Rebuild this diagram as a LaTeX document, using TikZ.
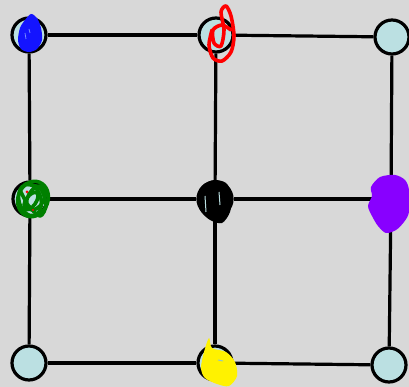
\documentclass[tikz,border=0pt]{standalone}
\definecolor{bgc}{RGB}{216,216,216}
\definecolor{nodefill}{RGB}{187,224,226}
\definecolor{blueS}{RGB}{20,20,255}
\definecolor{blueL}{RGB}{120,140,255}
\definecolor{greenS}{RGB}{0,128,0}
\definecolor{purpleS}{RGB}{136,0,255}
\definecolor{yellowL}{RGB}{150,200,190}
\begin{document}
\begin{tikzpicture}[x=1pt,y=-1pt,
  dot/.style={circle,draw=black,line width=3.2pt,fill=nodefill,minimum size=34pt,inner sep=0pt},
  edge/.style={draw=black,line width=3.2pt},
  scrib/.style={line width=3.6pt,line cap=round,line join=round}]
\fill[bgc] (0,0) rectangle (409,387);
\useasboundingbox (0,0) rectangle (409,387);
\node[dot] (tl) at (29,35) {};
\node[dot] (tm) at (216,35) {};
\node[dot] (tr) at (392,37) {};
\node[dot] (ml) at (30,199) {};
\node[dot] (mc) at (215,199) {};
\node[dot] (mr) at (391,199) {};
\node[dot] (bl) at (29,363) {};
\node[dot] (bm) at (215,363) {};
\node[dot] (br) at (389,365) {};
\draw[edge] (tl) -- (tm);
\draw[edge] (tm) -- (tr);
\draw[edge] (ml) -- (mc);
\draw[edge] (mc) -- (mr);
\draw[edge] (bl) -- (bm);
\draw[edge] (bm) -- (br);
\draw[edge] (tl) -- (ml);
\draw[edge] (ml) -- (bl);
\draw[edge] (tm) -- (mc);
\draw[edge] (mc) -- (bm);
\draw[edge] (tr) -- (mr);
\draw[edge] (mr) -- (br);
% blue scribble
\fill[blueS] plot[smooth cycle] coordinates {(31,14) (37,18) (41,28) (42,40) (37,49) (29,52) (21,49) (18,40) (20,28) (25,20)};
\draw[blueL,line width=0.8pt] (25,33) -- (26,39) (29,29) -- (30,33);
% red scribble
\draw[scrib,red] plot[smooth] coordinates {(212,30) (209,45) (213,58) (222,61) (231,52) (234,36) (231,16) (226,6) (221,12) (224,30) (221,46) (214,43) (213,30) (222,25) (231,30)};
% green scribble
\draw[scrib,greenS] (33,199) ellipse[x radius=15,y radius=18,rotate=-20];
\draw[scrib,greenS] (30,200) ellipse[x radius=11,y radius=16,rotate=15];
\draw[scrib,greenS] (36,198) ellipse[x radius=8,y radius=13,rotate=-30];
\draw[scrib,greenS] (31,201) ellipse[x radius=5,y radius=10,rotate=-35];
\draw[scrib,greenS] plot[smooth] coordinates {(20,190) (28,205) (40,216) (46,205) (40,188) (25,184)};
\fill[red] (27,192) circle (1.5) (33,210) circle (1.2);
% black scribble
\fill[black] plot[smooth cycle] coordinates {(214,180) (226,183) (232,195) (230,212) (222,223) (210,220) (200,210) (198,195) (203,185)};
\draw[nodefill,line width=1pt] (205,196) -- (206,212) (219,192) -- (220,205);
% purple blob
\fill[purpleS] plot[smooth cycle] coordinates {(380,177) (395,175) (405,180) (409,190) (409,212) (404,222) (396,230) (386,233) (378,226) (372,216) (368,206) (372,196) (371,187)};
% yellow blob
\fill[yellow] plot[smooth cycle] coordinates {(209,338) (212,348) (226,352) (235,362) (237,376) (229,386) (217,384) (205,378) (201,368) (204,352)};
\draw[yellowL,line width=1pt] (218,360) -- (223,361);
\end{tikzpicture}
\end{document}
